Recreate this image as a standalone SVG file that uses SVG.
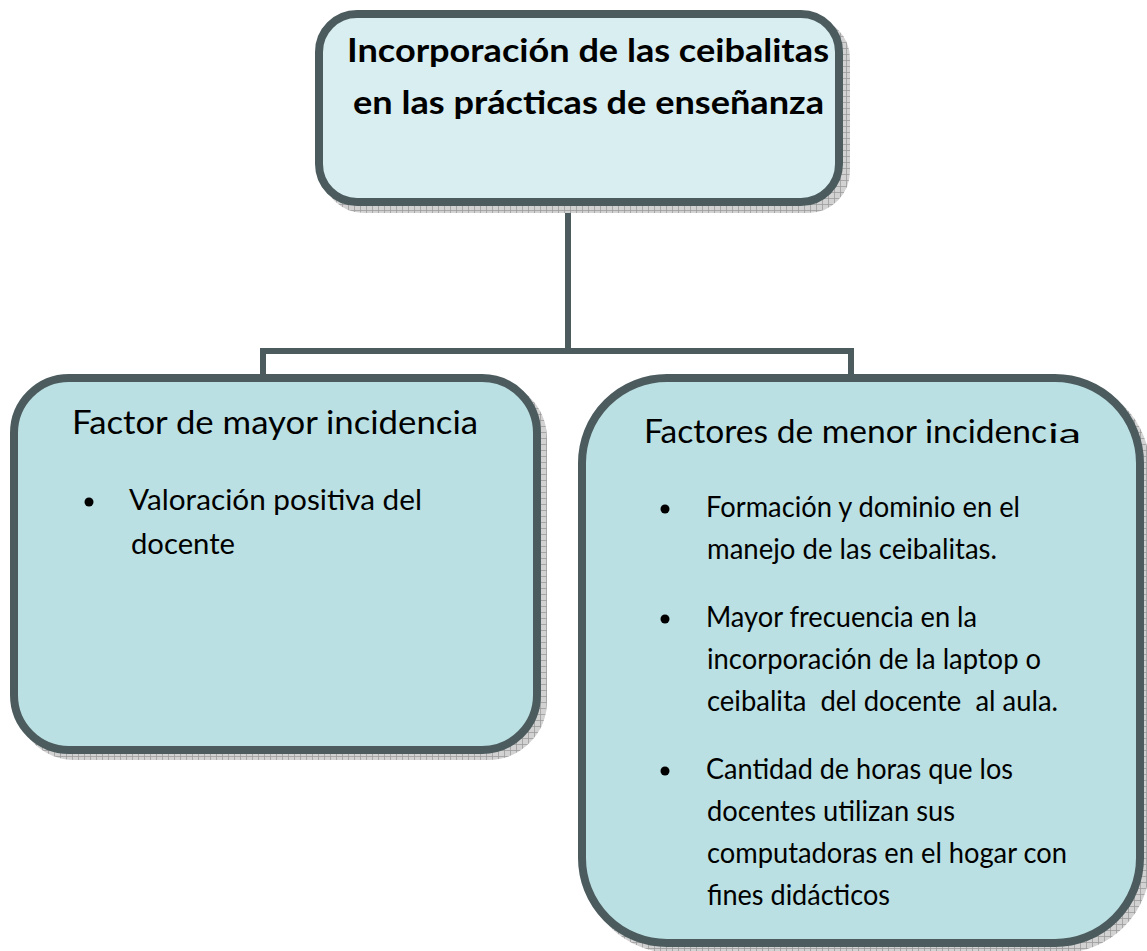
<svg xmlns="http://www.w3.org/2000/svg" width="1147" height="951" viewBox="0 0 1147 951">
<defs>
<pattern id="hatch" width="6" height="6" patternUnits="userSpaceOnUse">
<rect width="6" height="6" fill="#d2d2d2"/>
<path d="M0 0.5H6M0.5 0V6" stroke="#9c9c9c" stroke-width="0.8"/>
</pattern>
<style>
.shadow{fill:url(#hatch);stroke:url(#hatch);stroke-width:8}
.box{stroke:#4c5c5e;stroke-width:8}
.top{fill:#d9eef0}
.sub{fill:#bbe0e3}
.conn{fill:none;stroke:#4c5c5e;stroke-width:6}
text{font-family:Lato,"Liberation Sans",sans-serif;fill:#000;white-space:pre}
.title{font-size:33px;font-weight:bold}
.head{font-size:32px}
.item{font-size:28px}
.bul{fill:#000}
</style>
</defs>
<rect width="1147" height="951" fill="#fff"/>
<g id="connectors">
<path class="conn" d="M568 202V351M263 378V351H851V378"/>
</g>
<g id="node-top">
<rect class="shadow" x="326" y="21" width="520" height="188" rx="38"/>
<rect class="box top" x="319" y="14" width="520" height="188" rx="38"/>
<text class="title" x="347" y="62" textLength="482" lengthAdjust="spacingAndGlyphs">Incorporación de las ceibalitas</text>
<text class="title" x="353" y="114" textLength="471" lengthAdjust="spacingAndGlyphs">en las prácticas de enseñanza</text>
</g>
<g id="node-left">
<rect class="shadow" x="20" y="384" width="523" height="372" rx="55"/>
<rect class="box sub" x="14" y="378" width="523" height="372" rx="55"/>
<text class="head" x="72" y="434" textLength="406" lengthAdjust="spacingAndGlyphs">Factor de mayor incidencia</text>
<circle class="bul" cx="89" cy="502" r="4.5"/>
<text class="item" x="129" y="510" textLength="293" lengthAdjust="spacingAndGlyphs">Valoración positiva del</text>
<text class="item" x="131" y="554" textLength="104" lengthAdjust="spacingAndGlyphs">docente</text>
</g>
<g id="node-right">
<rect class="shadow" x="588" y="384" width="558" height="565" rx="85"/>
<rect class="box sub" x="582" y="378" width="558" height="565" rx="85"/>
<text class="head" x="644" y="443" textLength="403" lengthAdjust="spacingAndGlyphs">Factores de menor incidenc</text>
<text x="1048" y="443" font-size="26" textLength="33" lengthAdjust="spacingAndGlyphs">ia</text>
<circle class="bul" cx="665" cy="509" r="4.5"/>
<text class="item" x="706" y="517" textLength="314" lengthAdjust="spacingAndGlyphs">Formación y dominio en el</text>
<text class="item" x="707" y="559" textLength="290" lengthAdjust="spacingAndGlyphs">manejo de las ceibalitas.</text>
<circle class="bul" cx="665" cy="619" r="4.5"/>
<text class="item" x="706" y="627" textLength="271" lengthAdjust="spacingAndGlyphs">Mayor frecuencia en la</text>
<text class="item" x="707" y="669" textLength="334" lengthAdjust="spacingAndGlyphs">incorporación de la laptop o</text>
<text class="item" x="707" y="711" textLength="351" lengthAdjust="spacingAndGlyphs">ceibalita  del docente  al aula.</text>
<circle class="bul" cx="665" cy="771" r="4.5"/>
<text class="item" x="706" y="779" textLength="307" lengthAdjust="spacingAndGlyphs">Cantidad de horas que los</text>
<text class="item" x="707" y="821" textLength="248" lengthAdjust="spacingAndGlyphs">docentes utilizan sus</text>
<text class="item" x="707" y="863" textLength="360" lengthAdjust="spacingAndGlyphs">computadoras en el hogar con</text>
<text class="item" x="707" y="905" textLength="183" lengthAdjust="spacingAndGlyphs">fines didácticos</text>
</g>
</svg>
